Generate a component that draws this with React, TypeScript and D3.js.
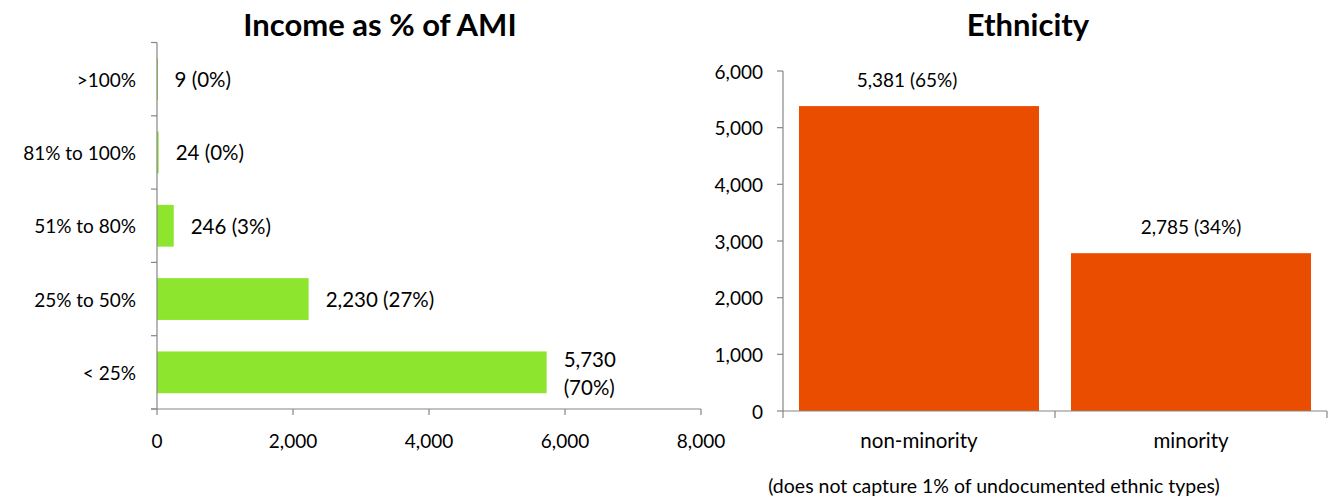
import React from "react";
import * as d3 from "d3";

// ---- data ----
const incomeCategories = [">100%", "81% to 100%", "51% to 80%", "25% to 50%", "< 25%"];
const incomeValues = [9, 24, 246, 2230, 5730];
const incomePercents = ["0%", "0%", "3%", "27%", "70%"];
const incomeTicks = [0, 2000, 4000, 6000, 8000];

const ethnicityCategories = ["non-minority", "minority"];
const ethnicityValues = [5381, 2785];
const ethnicityPercents = ["65%", "34%"];
const ethnicityTicks = [0, 1000, 2000, 3000, 4000, 5000, 6000];

const leftTitle = "Income as % of AMI";
const rightTitle = "Ethnicity";
const note = "(does not capture 1% of undocumented ethnic types)";

const W = 1328;
const H = 502;
const FONT = "Lato, 'Open Sans', sans-serif";
const AXIS = "#868686";
const GREEN = "#8DE52D";
const ORANGE = "#EB4D00";
const fmt = d3.format(",");

export default function App() {
  // Left chart scales
  const lx = d3.scaleLinear().domain([0, 8000]).range([157, 701]);
  const ly = d3.scaleBand<string>().domain(incomeCategories).range([42.5, 409]).paddingInner(0.43).paddingOuter(0.215);
  const lStep = ly.step();
  const lBounds = d3.range(incomeCategories.length + 1).map((i) => 42.5 + i * lStep);

  // Right chart scales
  const rx = d3.scaleBand<string>().domain(ethnicityCategories).range([783, 1327]).paddingInner(0.1176).paddingOuter(0.0588);
  const ry = d3.scaleLinear().domain([0, 6000]).range([411, 71]);
  const rStep = rx.step();
  const rBounds = d3.range(ethnicityCategories.length + 1).map((i) => 783 + i * rStep);

  const wrapThreshold = 5000;

  return (
    <svg width={W} height={H} style={{ position: "absolute", left: 0, top: 0, background: "#fff" }} fontFamily={FONT}>
      {/* ===== Left chart ===== */}
      <text x={380} y={36} textAnchor="middle" fontSize={31} fontWeight="bold" fill="#000">{leftTitle}</text>
      {incomeCategories.map((c, i) => {
        const v = incomeValues[i];
        const y0 = ly(c)!;
        const bw = ly.bandwidth();
        const cy = y0 + bw / 2;
        const xe = lx(v);
        const label = `${fmt(v)} (${incomePercents[i]})`;
        const wrap = v > wrapThreshold;
        return (
          <g key={c}>
            <rect x={lx(0)} y={y0} width={Math.max(xe - lx(0), 1)} height={bw} fill={GREEN} />
            <text x={136} y={cy} textAnchor="end" dominantBaseline="central" fontSize={19} fill="#000">{c}</text>
            {wrap ? (
              <text x={xe + 17} y={cy} fontSize={20.5} fill="#000">
                <tspan x={xe + 17} y={cy - 5}>{fmt(v)}</tspan>
                <tspan x={xe + 17} y={cy + 23}>({incomePercents[i]})</tspan>
              </text>
            ) : (
              <text x={xe + 17} y={cy} dominantBaseline="central" fontSize={20.5} fill="#000">{label}</text>
            )}
          </g>
        );
      })}
      <line x1={157} x2={157} y1={42.5} y2={409} stroke={AXIS} strokeWidth={1.2} />
      {lBounds.map((b, i) => (
        <line key={"lt" + i} x1={151} x2={157} y1={b} y2={b} stroke={AXIS} strokeWidth={1.2} />
      ))}
      <line x1={151} x2={701} y1={409} y2={409} stroke={AXIS} strokeWidth={1.2} />
      {incomeTicks.map((t) => (
        <g key={"lx" + t}>
          <line x1={lx(t)} x2={lx(t)} y1={409} y2={415} stroke={AXIS} strokeWidth={1.2} />
          <text x={lx(t)} y={448} textAnchor="middle" fontSize={19} fill="#000">{fmt(t)}</text>
        </g>
      ))}

      {/* ===== Right chart ===== */}
      <text x={1028} y={36} textAnchor="middle" fontSize={31} fontWeight="bold" fill="#000">{rightTitle}</text>
      {ethnicityCategories.map((c, i) => {
        const v = ethnicityValues[i];
        const x0 = rx(c)!;
        const bw = rx.bandwidth();
        const cx = x0 + bw / 2;
        return (
          <g key={c}>
            <rect x={x0} y={ry(v)} width={bw} height={ry(0) - ry(v)} fill={ORANGE} />
            <text x={i === 0 ? cx - 12 : cx} y={ry(v) - 19} textAnchor="middle" fontSize={19} fill="#000">{`${fmt(v)} (${ethnicityPercents[i]})`}</text>
            <text x={cx} y={448} textAnchor="middle" fontSize={20.5} fill="#000">{c}</text>
          </g>
        );
      })}
      <line x1={783} x2={783} y1={71} y2={411} stroke={AXIS} strokeWidth={1.2} />
      {ethnicityTicks.map((t) => (
        <g key={"ry" + t}>
          <line x1={777} x2={783} y1={ry(t)} y2={ry(t)} stroke={AXIS} strokeWidth={1.2} />
          <text x={763} y={ry(t)} textAnchor="end" dominantBaseline="central" fontSize={19} fill="#000">{fmt(t)}</text>
        </g>
      ))}
      <line x1={783} x2={1327} y1={411} y2={411} stroke={AXIS} strokeWidth={1.2} />
      {rBounds.map((b, i) => (
        <line key={"rb" + i} x1={b} x2={b} y1={411} y2={418} stroke={AXIS} strokeWidth={1.2} />
      ))}
      <text x={994} y={493} textAnchor="middle" fontSize={19.5} fill="#000">{note}</text>
    </svg>
  );
}
